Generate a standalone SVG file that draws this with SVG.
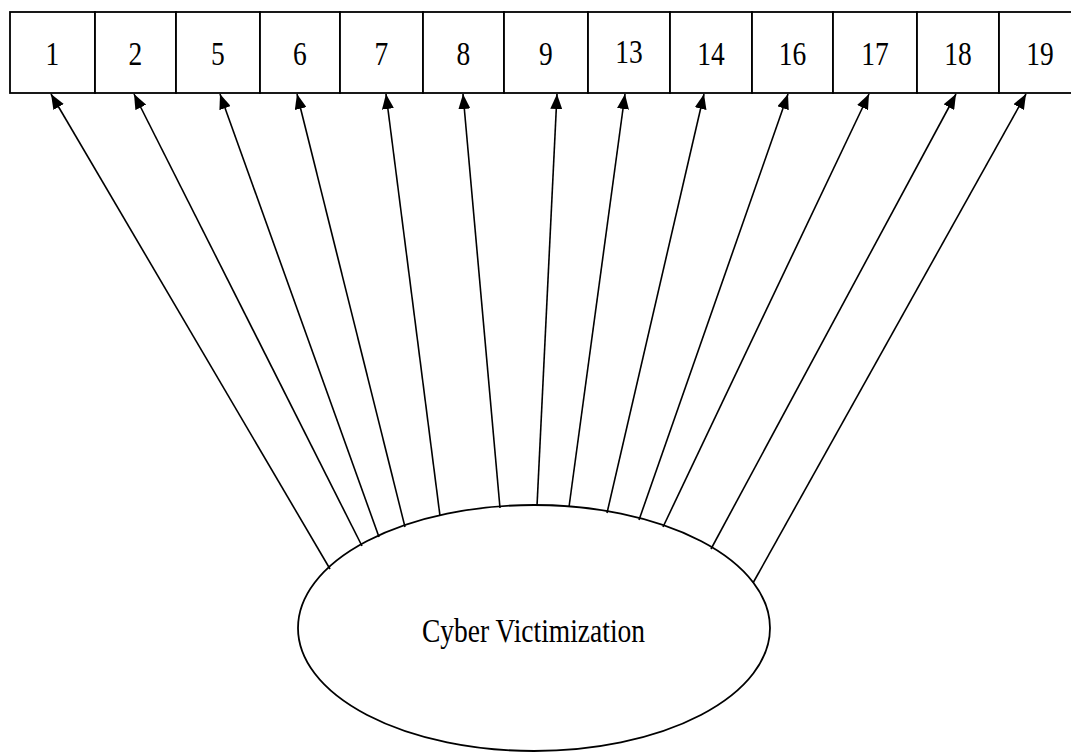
<svg xmlns="http://www.w3.org/2000/svg" width="1071" height="753" viewBox="0 0 1071 753">
<style>
.box{fill:#fff;stroke:#000;stroke-width:1.8}
.lbl{font-family:"Liberation Serif","Times New Roman",serif;font-size:27.5px;fill:#000;text-anchor:middle}
.conn line{stroke:#000;stroke-width:1.6}
.ell{fill:#fff;stroke:#000;stroke-width:1.8}
</style>
<defs>
<marker id="ah" markerUnits="userSpaceOnUse" markerWidth="15" markerHeight="12" viewBox="0 0 15 12" refX="15" refY="6" orient="auto">
<path d="M0,0 L15,6 L0,12 Z" fill="#000"/>
</marker>
</defs>
<rect width="1071" height="753" fill="#fff"/>
<g id="n1"><rect class="box" x="10" y="12" width="85" height="81"/><text class="lbl" transform="translate(52.5,65) scale(1,1.2)">1</text></g>
<g id="n2"><rect class="box" x="95" y="12" width="81" height="81"/><text class="lbl" transform="translate(135.5,65) scale(1,1.2)">2</text></g>
<g id="n5"><rect class="box" x="176" y="12" width="84" height="81"/><text class="lbl" transform="translate(218,65) scale(1,1.2)">5</text></g>
<g id="n6"><rect class="box" x="260" y="12" width="80" height="81"/><text class="lbl" transform="translate(300,65) scale(1,1.2)">6</text></g>
<g id="n7"><rect class="box" x="340" y="12" width="83" height="81"/><text class="lbl" transform="translate(381.5,65) scale(1,1.2)">7</text></g>
<g id="n8"><rect class="box" x="423" y="12" width="81" height="81"/><text class="lbl" transform="translate(463.5,65) scale(1,1.2)">8</text></g>
<g id="n9"><rect class="box" x="504" y="12" width="84" height="81"/><text class="lbl" transform="translate(546,65) scale(1,1.2)">9</text></g>
<g id="n13"><rect class="box" x="588" y="12" width="82" height="81"/><text class="lbl" transform="translate(629,63) scale(1,1.2)">13</text></g>
<g id="n14"><rect class="box" x="670" y="12" width="82" height="81"/><text class="lbl" transform="translate(711,65) scale(1,1.2)">14</text></g>
<g id="n16"><rect class="box" x="752" y="12" width="81" height="81"/><text class="lbl" transform="translate(792.5,65) scale(1,1.2)">16</text></g>
<g id="n17"><rect class="box" x="833" y="12" width="84" height="81"/><text class="lbl" transform="translate(875,65) scale(1,1.2)">17</text></g>
<g id="n18"><rect class="box" x="917" y="12" width="82" height="81"/><text class="lbl" transform="translate(958,65) scale(1,1.2)">18</text></g>
<g id="n19"><rect class="box" x="999" y="12" width="84" height="81"/><text class="lbl" transform="translate(1040,65) scale(1,1.2)">19</text></g>
<g id="cv"><ellipse class="ell" cx="534" cy="628" rx="236" ry="123"/><text class="lbl" transform="translate(533.5,642) scale(1,1.2)">Cyber Victimization</text></g>
<g id="connectors" class="conn">
<line x1="330" y1="569" x2="51" y2="94" marker-end="url(#ah)"/>
<line x1="362" y1="546" x2="134" y2="94" marker-end="url(#ah)"/>
<line x1="379" y1="537" x2="220" y2="94" marker-end="url(#ah)"/>
<line x1="405" y1="527" x2="297" y2="94" marker-end="url(#ah)"/>
<line x1="440" y1="516" x2="386" y2="94" marker-end="url(#ah)"/>
<line x1="500" y1="508" x2="463" y2="94" marker-end="url(#ah)"/>
<line x1="537" y1="506" x2="557" y2="94" marker-end="url(#ah)"/>
<line x1="569" y1="507" x2="625" y2="94" marker-end="url(#ah)"/>
<line x1="607" y1="513" x2="704" y2="94" marker-end="url(#ah)"/>
<line x1="639" y1="520" x2="788" y2="94" marker-end="url(#ah)"/>
<line x1="663" y1="527" x2="869" y2="94" marker-end="url(#ah)"/>
<line x1="711" y1="549" x2="956" y2="94" marker-end="url(#ah)"/>
<line x1="753" y1="583" x2="1026" y2="94" marker-end="url(#ah)"/>
</g>
</svg>
